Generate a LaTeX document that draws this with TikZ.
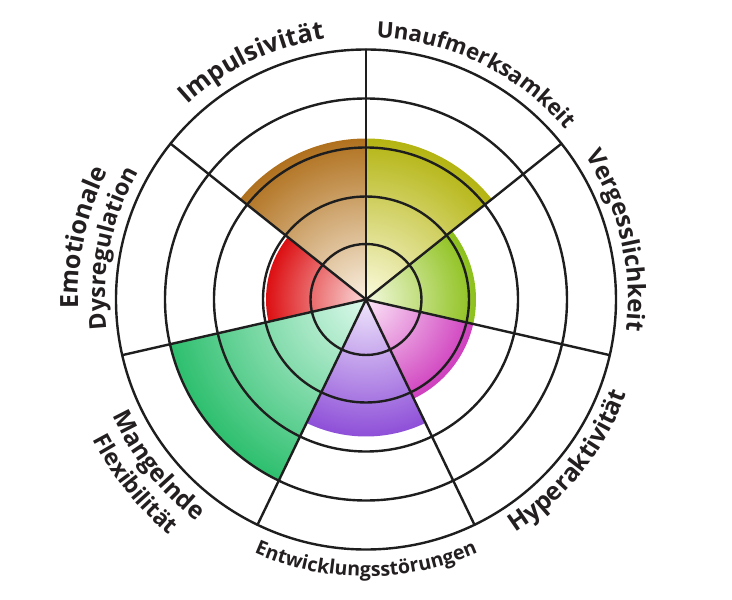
\documentclass[tikz,border=0pt]{standalone}
\usepackage{fontspec}
\setmainfont{Open Sans}
\usetikzlibrary{decorations.text}
\definecolor{txt}{HTML}{231F20}
\definecolor{linec}{HTML}{1E1E1E}
\definecolor{brownO}{HTML}{B0711E}
\definecolor{brownI}{HTML}{FAF0E2}
\definecolor{oliveO}{HTML}{B4B412}
\definecolor{oliveI}{HTML}{FBFBDE}
\definecolor{ygO}{HTML}{8CC01A}
\definecolor{ygI}{HTML}{F3FADE}
\definecolor{magO}{HTML}{CF3FBE}
\definecolor{magI}{HTML}{FCE6F8}
\definecolor{purO}{HTML}{8E4FD8}
\definecolor{purI}{HTML}{EFE6FC}
\definecolor{grnO}{HTML}{2DBF6E}
\definecolor{grnI}{HTML}{DDF9EC}
\definecolor{redO}{HTML}{DC0F12}
\definecolor{redI}{HTML}{FBDADA}
\newcommand\mysector[5]{%
  \begin{scope}
    \clip (0pt,0pt) -- (#1:#3) arc[start angle=#1, end angle=#2, radius=#3] -- cycle;
    \shade[inner color=#4, outer color=#5] (0pt,0pt) circle[radius=#3];
  \end{scope}}
\newcommand\cwlabel[5]{%
  \path[decorate, decoration={text along path, text align=center, text color=txt,
    text={|\fontsize{#4}{#4}\selectfont\bfseries|#5}}]
    ({#1+#3}:#2) arc[start angle={#1+#3}, end angle={#1-#3}, radius=#2];}
\newcommand\ccwlabel[5]{%
  \path[decorate, decoration={text along path, text align=center, text color=txt,
    text={|\fontsize{#4}{#4}\selectfont\bfseries|#5}}]
    ({#1-#3}:#2) arc[start angle={#1-#3}, end angle={#1+#3}, radius=#2];}
\begin{document}
\begin{tikzpicture}[x=1pt, y=1pt,
  ringline/.style={draw=linec, line width=2.4pt},
  spokeline/.style={draw=linec, line width=2.4pt}]
\useasboundingbox (-366pt,-300.5pt) rectangle (366pt,299.5pt);
% shaded sectors
\mysector{38.5714}{90}{161pt}{oliveI}{oliveO}
\mysector{-12.8571}{38.5714}{110pt}{ygI}{ygO}
\mysector{-64.2857}{-12.8571}{110pt}{magI}{magO}
\mysector{-115.7143}{-64.2857}{137pt}{purI}{purO}
\mysector{-167.1429}{-115.7143}{201pt}{grnI}{grnO}
\mysector{141.4286}{192.8571}{100pt}{redI}{redO}
\mysector{90}{141.4286}{161pt}{brownI}{brownO}
% rings
\foreach \r in {55.5,103,152,201,250}
  \draw[ringline] (0pt,0pt) circle[radius=\r pt];
% spokes
\coordinate (c) at (0pt,0pt);
\foreach \k in {0,...,6}
  \draw[spokeline, line cap=round] (c) -- ({90-\k*360/7}:250pt);
% labels
\cwlabel{115.7}{264pt}{55}{25.5pt}{Impulsivität}
\cwlabel{64.0}{262pt}{55}{22.3pt}{Unaufmerksamkeit}
\cwlabel{13.2}{262pt}{50}{24.2pt}{Vergesslichkeit}
\cwlabel{167.7}{288pt}{40}{25pt}{Emotionale}
\cwlabel{168.6}{261pt}{45}{23.3pt}{Dysregulation}
\ccwlabel{-38.6}{277pt}{45}{24.8pt}{Hyperaktivität}
\ccwlabel{-90}{277pt}{45}{19.6pt}{Entwicklungsstörungen}
\ccwlabel{-141.4}{279pt}{40}{24.5pt}{Mangelnde}
\ccwlabel{-141.4}{307pt}{40}{23pt}{Flexibilität}
\end{tikzpicture}
\end{document}
